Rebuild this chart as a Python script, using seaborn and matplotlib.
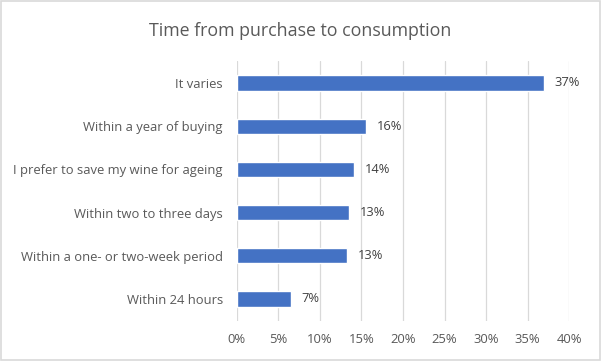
import numpy as np
import pandas as pd
import matplotlib.pyplot as plt
import seaborn as sns
from matplotlib.ticker import PercentFormatter

# dati
categorie = ['It varies', 'Within a year of buying', 'I prefer to save my wine for ageing',
             'Within two to three days', 'Within a one- or two-week period', 'Within 24 hours']
valori = [37.0, 15.6, 14.1, 13.5, 13.3, 6.5]
etichette = ['37%', '16%', '14%', '13%', '13%', '7%']
ticks_x = [0, 5, 10, 15, 20, 25, 30, 35, 40]

df = pd.DataFrame({'categoria': categorie, 'valore': valori})

sns.set_style('white')
plt.rcParams['font.family'] = ['Open Sans', 'DejaVu Sans']

fig = plt.figure(figsize=(6.01, 3.61), dpi=100)
ax = fig.add_axes([0.394, 0.112, 0.553, 0.718])

sns.barplot(data=df, x='valore', y='categoria', orient='h', color='#4472C4',
            saturation=1, width=0.35, ax=ax)

for i, (v, lab) in enumerate(zip(valori, etichette)):
    ax.annotate(lab, (v, i), xytext=(7.5, 0), textcoords='offset points',
                va='center', ha='left', fontsize=9.3, color='#404040')

ax.set_xlim(0, 40)
ax.set_xticks(ticks_x)
ax.xaxis.set_major_formatter(PercentFormatter(decimals=0))
ax.grid(axis='x', color='#d9d9d9', linewidth=0.9)
ax.set_axisbelow(True)
sns.despine(ax=ax, left=True, bottom=True)
ax.set_xlabel('')
ax.set_ylabel('')
ax.tick_params(axis='both', length=0, labelsize=9.4, labelcolor='#595959')
ax.tick_params(axis='y', pad=10)
ax.tick_params(axis='x', pad=9)

fig.text(0.5, 0.915, 'Time from purchase to consumption', ha='center', va='center',
         fontsize=12.8, color='#595959')

# bordo esterno
fig.patches.append(plt.Rectangle((0.002, 0.003), 0.996, 0.994, transform=fig.transFigure,
                                 fill=False, edgecolor='#d9d9d9', linewidth=1.2))

plt.savefig('out.png', dpi=100)
